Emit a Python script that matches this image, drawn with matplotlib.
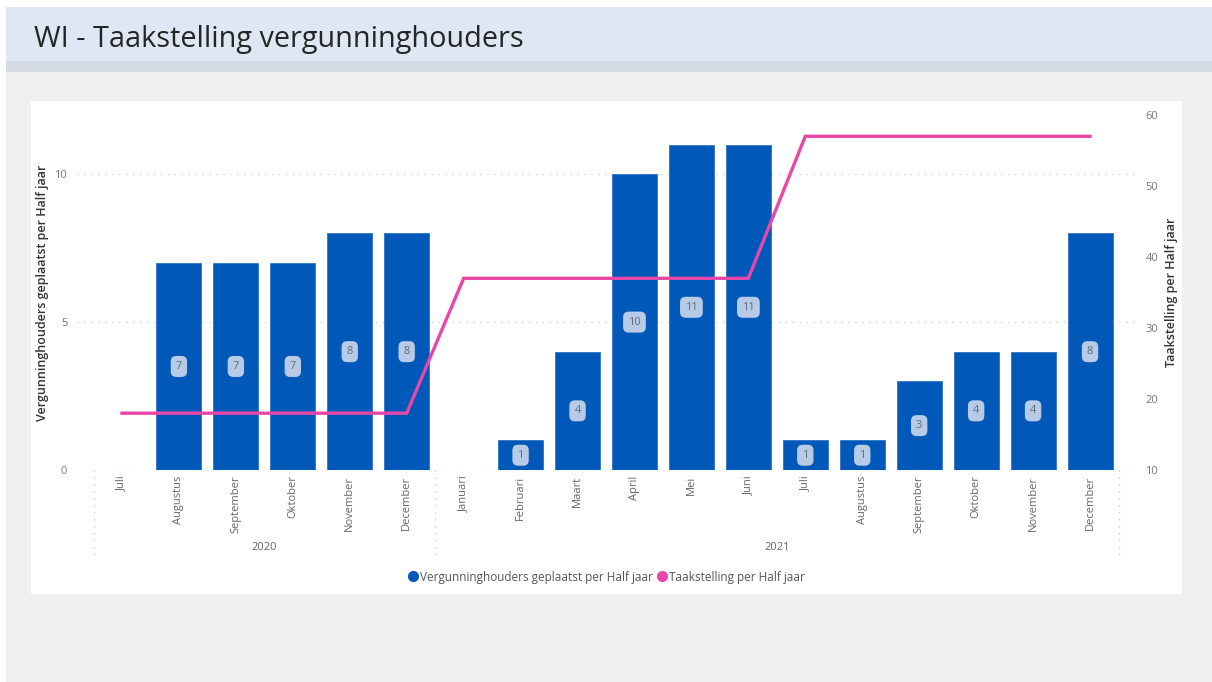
import matplotlib
matplotlib.use("Agg")
import matplotlib.pyplot as plt
from matplotlib.patches import Rectangle
from matplotlib.lines import Line2D
import numpy as np

plt.rcParams['font.family'] = ['Open Sans', 'DejaVu Sans']

months = ["Juli", "Augustus", "September", "Oktober", "November", "December",
          "Januari", "Februari", "Maart", "April", "Mei", "Juni",
          "Juli", "Augustus", "September", "Oktober", "November", "December"]
years = ["2020", "2021"]
year_counts = [6, 12]
geplaatst = [0, 7, 7, 7, 8, 8, 0, 1, 4, 10, 11, 11, 1, 1, 3, 4, 4, 8]
taakstelling = [18, 18, 18, 18, 18, 18, 37, 37, 37, 37, 37, 37, 57, 57, 57, 57, 57, 57]

W, H = 1212, 682
fig = plt.figure(figsize=(W / 100, H / 100), dpi=100)
fig.patch.set_facecolor("white")

def fx(x):
    return x / W

def fy(y):
    return 1 - y / H

def rect(x0, y0, x1, y1, color, z=-5):
    fig.patches.append(Rectangle((fx(x0), fy(y1)), fx(x1) - fx(x0), fy(y0) - fy(y1),
                                 transform=fig.transFigure, facecolor=color,
                                 edgecolor="none", zorder=z))

rect(6, 7, 1212, 682, "#f0f0f0")
rect(6, 7, 1212, 61, "#dde8f4")
rect(6, 61, 1212, 72, "#d4dbe4")
rect(31, 101, 1182, 594, "#ffffff")

fig.text(fx(34), fy(39), "WI - Taakstelling vergunninghouders", fontsize=20.8,
         color="#252525", va="center", ha="left")

# axes
axL, axR, axT, axB = 77, 1135, 115, 470
ax = fig.add_axes([fx(axL), fy(axB), fx(axR) - fx(axL), fy(axT) - fy(axB)])
ax.set_zorder(1)
ax.set_facecolor("none")
ax2 = ax.twinx()
ax2.set_zorder(2)

x = np.arange(len(months))
pxu = (1118.5 - 93.5) / 18.0
ext = (93.5 - axL) / pxu
ax.set_xlim(-0.5 - ext, 17.5 + ext)
ax.set_ylim(0, 12)
ax2.set_ylim(10, 60)

bars = ax.bar(x, geplaatst, width=0.79, color="#0058b8", edgecolor="#2f72c4",
              linewidth=0.6, zorder=2)
ax2.plot(x, taakstelling, color="#e846a8", linewidth=2.4, zorder=3,
         solid_joinstyle="miter")

for xi, v in zip(x, geplaatst):
    if v > 0:
        ax.text(xi, v / 2, str(v), ha="center", va="center", fontsize=8,
                color="#5f6b7a", zorder=5,
                bbox=dict(boxstyle="round,pad=0.45,rounding_size=0.5",
                          fc="#b7cbe6", ec="none"))

ax.set_yticks([0, 5, 10])
ax2.set_yticks([10, 20, 30, 40, 50, 60])
for a in (ax, ax2):
    for s in a.spines.values():
        s.set_visible(False)
    a.tick_params(axis="y", length=0, labelsize=8, labelcolor="#777777")
ax.tick_params(axis="y", pad=7)
ax2.tick_params(axis="y", pad=7.5)
ax.yaxis.grid(True, linestyle=(0, (1, 4)), color="#cfcfcf", linewidth=1)
ax.set_axisbelow(True)
ax.set_xticks(x)
ax.set_xticklabels(months, rotation=90, fontsize=8, color="#666666", va="top")
ax.tick_params(axis="x", length=0, pad=4)

ax.set_ylabel("Vergunninghouders geplaatst per Half jaar", fontsize=9,
              color="#333333", fontweight="semibold", labelpad=4)
ax2.set_ylabel("Taakstelling per Half jaar", fontsize=9, color="#333333",
               fontweight="semibold", labelpad=5)

# year separators and labels
def xpx(v):
    return axL + (v - (-0.5 - ext)) * pxu

bounds = [-0.5]
for c in year_counts:
    bounds.append(bounds[-1] + c)
for b in bounds:
    fig.add_artist(Line2D([fx(xpx(b)), fx(xpx(b))], [fy(470), fy(556)],
                          transform=fig.transFigure, color="#cccccc",
                          linestyle=(0, (1, 4)), linewidth=1))
for i, yr in enumerate(years):
    mid = (bounds[i] + bounds[i + 1]) / 2
    fig.text(fx(xpx(mid)), fy(547), yr, fontsize=8, color="#666666",
             ha="center", va="center")

handles = [Line2D([], [], marker="o", linestyle="none", markersize=8,
                  markerfacecolor="#0058b8", markeredgecolor="none"),
           Line2D([], [], marker="o", linestyle="none", markersize=8,
                  markerfacecolor="#e846a8", markeredgecolor="none")]
fig.legend(handles, ["Vergunninghouders geplaatst per Half jaar",
                     "Taakstelling per Half jaar"],
           loc="center", bbox_to_anchor=(fx(606), fy(577)), ncol=2,
           frameon=False, fontsize=8.5, handletextpad=0.1, columnspacing=0.3,
           handlelength=1.0, labelcolor="#555555")

fig.savefig("out.png", dpi=100)
